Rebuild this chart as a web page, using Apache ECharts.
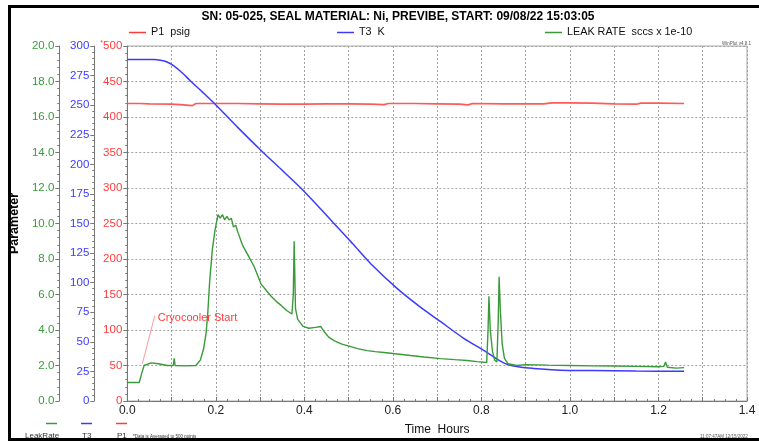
<!DOCTYPE html>
<html>
<head>
<meta charset="utf-8">
<script src="https://cdn.jsdelivr.net/npm/echarts@6/dist/echarts.min.js"></script>
<style>
  html, body { margin: 0; padding: 0; background: #fff; }
  #chart { width: 759px; height: 441px; }
</style>
</head>
<body>
<div id="chart"></div>
<script>
// P1 psig (red) – nearly flat pressure trace
var timeP1 = [0, 0.03, 0.05, 0.1, 0.12, 0.14, 0.147, 0.155, 0.2, 0.25, 0.3, 0.35, 0.4, 0.45, 0.5, 0.55, 0.58, 0.59,
  0.65, 0.7, 0.75, 0.77, 0.78, 0.85, 0.9, 0.94, 0.96, 1.0, 1.05, 1.1, 1.15, 1.16, 1.2, 1.258];
var p1Psig = [419, 419, 418.5, 418, 417.5, 416.5, 416, 419, 419, 419, 418.5, 418, 418, 418.5, 418.5, 418, 417.5, 419,
  419, 418.5, 418, 417, 419, 418.5, 418.5, 418.5, 420, 420, 419.5, 418.5, 418, 419.5, 419.5, 419];

// T3 K (blue) – cooldown curve
var timeT3 = [0, 0.06, 0.075, 0.09, 0.106, 0.125, 0.144, 0.17, 0.198, 0.25, 0.307, 0.347, 0.392, 0.43, 0.467, 0.509, 0.55,
  0.61, 0.66, 0.708, 0.76, 0.809, 0.835, 0.858, 0.89, 0.918, 0.978, 1.05, 1.15, 1.258];
var t3Kelvin = [288.5, 288.5, 288, 286.5, 283, 277, 270, 261, 251, 231, 210, 196, 180, 165, 150, 133, 116,
  95, 80, 67, 53, 42, 35.5, 31, 28.5, 27.5, 26, 25.7, 25.3, 25.2];

// LEAK RATE sccs x 1e-10 (green)
var timeLeak = [0, 0.027, 0.033, 0.038, 0.054, 0.07, 0.09, 0.104, 0.106, 0.108, 0.13, 0.155, 0.165, 0.172, 0.178,
  0.182, 0.186, 0.192, 0.198, 0.205, 0.21, 0.215, 0.22, 0.225, 0.23, 0.235, 0.24, 0.245, 0.25, 0.26, 0.273, 0.287,
  0.302, 0.315, 0.325, 0.337, 0.347, 0.36, 0.372, 0.375, 0.377, 0.38, 0.385, 0.397, 0.41, 0.425, 0.437, 0.445, 0.455,
  0.467, 0.485, 0.505, 0.52, 0.542, 0.56, 0.58, 0.61, 0.64, 0.67, 0.708, 0.74, 0.768, 0.79, 0.812, 0.815, 0.817,
  0.82, 0.825, 0.83, 0.835, 0.838, 0.84, 0.843, 0.847, 0.852, 0.86, 0.88, 0.9, 0.95, 1.0, 1.05, 1.1, 1.15, 1.2,
  1.212, 1.216, 1.22, 1.24, 1.258];
var leakRate = [1.04, 1.04, 1.6, 2.0, 2.15, 2.1, 2.0, 2.0, 2.4, 2.0, 1.98, 2.0, 2.3, 2.9, 3.8,
  5.0, 6.7, 8.5, 9.6, 10.5, 10.3, 10.5, 10.2, 10.4, 10.2, 10.3, 9.8, 9.9, 9.5, 8.8, 8.2, 7.55,
  6.6, 6.2, 5.9, 5.6, 5.4, 5.1, 4.9, 6.0, 9.0, 5.2, 4.6, 4.2, 4.1, 4.15, 4.2, 3.9, 3.6,
  3.4, 3.2, 3.06, 2.95, 2.84, 2.78, 2.73, 2.65, 2.56, 2.48, 2.39, 2.33, 2.28, 2.22, 2.17, 4.0, 5.9,
  4.0, 2.8, 2.3, 2.2, 4.5, 7.0, 5.0, 3.2, 2.4, 2.1, 2.0, 2.05, 2.02, 2.0, 1.98, 1.97, 1.95, 1.93,
  1.95, 2.2, 1.9, 1.85, 1.88];

var cryoStart = [[0.034, 2.1], [0.062, 4.8]];

function zip(xs, ys) {
  return xs.map(function (x, i) { return [x, ys[i]]; });
}

var font = 'Liberation Sans, Arial, sans-serif';
var red = '#ff3b3b', blue = '#3b3bff', green = '#3a9a3a';
var gridLine = { show: true, lineStyle: { color: '#a3a3a3', type: [2, 2], width: 1 } };

var myChart = echarts.init(document.getElementById('chart'));
var option = {
  animation: false,
  backgroundColor: '#fff',
  textStyle: { fontFamily: font },
  title: {
    text: 'SN: 05-025, SEAL MATERIAL: Ni, PREVIBE, START: 09/08/22 15:03:05',
    left: 393, top: 6, textAlign: 'center',
    textStyle: { fontSize: 12, fontWeight: 'bold', color: '#000', fontFamily: font }
  },
  legend: [
    { data: ['P1  psig'], left: 129, top: 27 },
    { data: ['T3  K'], left: 337, top: 27 },
    { data: ['LEAK RATE  sccs x 1e-10'], left: 545, top: 27 }
  ].map(function (l) {
    l.icon = 'rect'; l.itemWidth = 17; l.itemHeight = 1.5; l.itemGap = 0; l.padding = 0;
    l.textStyle = { fontSize: 10.8, color: '#111', fontFamily: font };
    return l;
  }),
  grid: { left: 126, right: 12, top: 46, bottom: 38, show: true, borderColor: '#aaa', borderWidth: 1 },
  xAxis: {
    type: 'value', min: 0, max: 1.4, interval: 0.1,
    name: 'Time  Hours', nameLocation: 'middle', nameGap: 23,
    nameTextStyle: { fontSize: 12, color: '#111', fontFamily: font },
    axisLine: { lineStyle: { color: '#777' } },
    axisTick: { inside: true, length: 4, lineStyle: { color: '#777' } },
    minorTick: { show: true, splitNumber: 4, length: 2, lineStyle: { color: '#777' } },
    splitLine: gridLine,
    axisLabel: {
      fontSize: 12, color: '#222', margin: 4,
      formatter: function (v) { return Math.round(v * 10) % 2 === 0 ? v.toFixed(1) : ''; }
    }
  },
  yAxis: [
    {
      type: 'value', min: 0, max: 500, interval: 50, position: 'left', offset: 0,
      axisLine: { show: true, lineStyle: { color: '#777' } },
      axisTick: { show: true, length: 4, lineStyle: { color: '#777' } },
      minorTick: { show: true, splitNumber: 5, length: 2, lineStyle: { color: '#777' } },
      splitLine: gridLine,
      axisLabel: {
        fontSize: 11.5, color: red, margin: 5,
        formatter: function (v) { return v === 500 ? '{s|*}500' : String(v); },
        rich: { s: { fontSize: 7, color: red, verticalAlign: 'top', padding: [0, 0, 6, 0] } }
      }
    },
    {
      type: 'value', min: 0, max: 300, interval: 25, position: 'left', offset: 33,
      axisLine: { show: true, lineStyle: { color: '#777' } },
      axisTick: { show: true, length: 4, lineStyle: { color: '#777' } },
      minorTick: { show: true, splitNumber: 5, length: 2, lineStyle: { color: '#777' } },
      splitLine: { show: false },
      axisLabel: { fontSize: 11.5, color: blue, margin: 5 }
    },
    {
      type: 'value', min: 0, max: 20, interval: 2, position: 'left', offset: 68,
      name: 'Parameter', nameLocation: 'middle', nameGap: 30, nameRotate: 90,
      nameTextStyle: { fontSize: 12.5, fontWeight: 'bold', color: '#000', fontFamily: font },
      axisLine: { show: true, lineStyle: { color: '#777' } },
      axisTick: { show: true, length: 4, lineStyle: { color: '#777' } },
      minorTick: { show: true, splitNumber: 5, length: 2, lineStyle: { color: '#777' } },
      splitLine: { show: false },
      axisLabel: { fontSize: 11.5, color: green, margin: 5, formatter: function (v) { return v.toFixed(1); } }
    }
  ],
  series: [
    {
      name: 'P1  psig', type: 'line', yAxisIndex: 0, showSymbol: false,
      color: red, lineStyle: { width: 1.7, color: '#ff5a5a' },
      data: zip(timeP1, p1Psig)
    },
    {
      name: 'T3  K', type: 'line', yAxisIndex: 1, showSymbol: false, smooth: 0.3,
      color: blue, lineStyle: { width: 1.5, color: blue },
      data: zip(timeT3, t3Kelvin)
    },
    {
      name: 'LEAK RATE  sccs x 1e-10', type: 'line', yAxisIndex: 2, showSymbol: false,
      color: green, lineStyle: { width: 1.4, color: green },
      data: zip(timeLeak, leakRate),
      markLine: {
        silent: true, symbol: 'none',
        lineStyle: { color: '#ff9a9a', width: 1, type: 'solid' },
        label: { show: false },
        data: [[{ coord: cryoStart[0] }, { coord: cryoStart[1] }]]
      },
      markPoint: {
        silent: true, symbol: 'circle', symbolSize: 0,
        label: { show: true, position: 'right', distance: 3, offset: [0, 2], formatter: 'Cryocooler Start', color: red, fontSize: 11, fontFamily: font },
        data: [{ coord: cryoStart[1] }]
      }
    }
  ],
  graphic: [
    { type: 'rect', shape: { x: 9.5, y: 6.5, width: 770, height: 433 }, style: { fill: 'none', stroke: '#000', lineWidth: 3 }, silent: true },
    { type: 'line', shape: { x1: 46, y1: 423.5, x2: 57, y2: 423.5 }, style: { stroke: green, lineWidth: 1.5 } },
    { type: 'line', shape: { x1: 81, y1: 423.5, x2: 92, y2: 423.5 }, style: { stroke: blue, lineWidth: 1.5 } },
    { type: 'line', shape: { x1: 116, y1: 423.5, x2: 127, y2: 423.5 }, style: { stroke: red, lineWidth: 1.5 } },
    { type: 'text', x: 25, y: 432, style: { text: 'LeakRate', fontSize: 8, fill: '#333', fontFamily: font } },
    { type: 'text', x: 82, y: 432, style: { text: 'T3', fontSize: 8, fill: '#333', fontFamily: font } },
    { type: 'text', x: 117, y: 432, style: { text: 'P1', fontSize: 8, fill: '#333', fontFamily: font } },
    { type: 'text', x: 133, y: 434.5, style: { text: '*Data is Averaged to 500 points', fontSize: 4.5, fill: '#333', fontFamily: font } },
    { type: 'text', x: 722, y: 41, style: { text: 'WinPlot v4.8.1', fontSize: 4.5, fill: '#555', fontFamily: font } },
    { type: 'text', x: 700, y: 434.5, style: { text: '11:07:47AM 12/15/2022', fontSize: 4.5, fill: '#555', fontFamily: font } }
  ]
};
myChart.setOption(option);
</script>
</body>
</html>
